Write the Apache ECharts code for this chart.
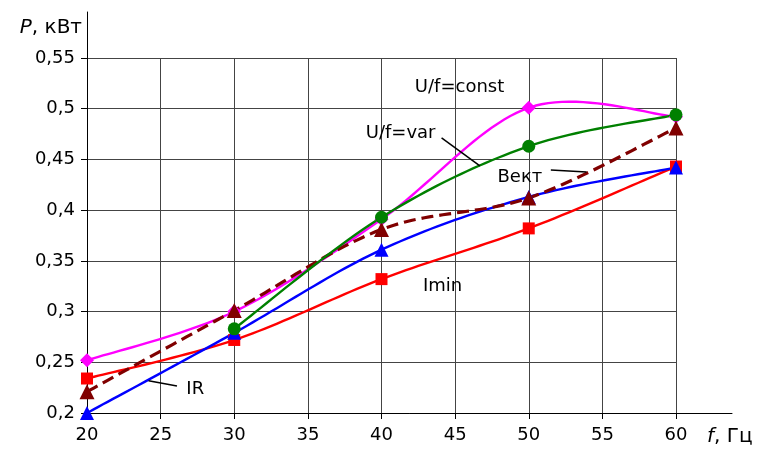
<!DOCTYPE html>
<html>
<head>
<meta charset="utf-8">
<script src="https://cdn.jsdelivr.net/npm/echarts@6/dist/echarts.min.js"></script>
<style>
html,body{margin:0;padding:0;background:#fff;}
#c{width:765px;height:452px;}
</style>
</head>
<body>
<div id="c"></div>
<script>
// ---- data ----
var freqs = [20, 30, 40, 50, 60];
var uConst = [0.252, 0.300, 0.391, 0.501, 0.492];
var uVar = [null, 0.283, 0.393, 0.463, 0.494];
var imin = [0.234, 0.272, 0.332, 0.382, 0.443];
var ir = [0.200, 0.279, 0.361, 0.413, 0.442];
var vekt = [0.221, 0.301, 0.381, 0.412, 0.481];
var xTicks = [20, 25, 30, 35, 40, 45, 50, 55, 60];
var yTicks = [0.2, 0.25, 0.3, 0.35, 0.4, 0.45, 0.5, 0.55];
// annotation labels (data coordinates)
var annoNames = ['U/f=const', 'U/f=var', 'Вект', 'Imin', 'IR'];
var annoX = [45.3, 41.3, 49.4, 44.15, 27.35];
var annoY = [0.521, 0.476, 0.432, 0.325, 0.223];
// leader lines [x1, y1, x2, y2]
var leaderVar = [44.08, 0.4712, 46.68, 0.4436];
var leaderVekt = [51.5, 0.4396, 53.92, 0.4377];
var leaderIR = [24.18, 0.2319, 26.11, 0.2266];

function pairs(vals) {
  return freqs.map(function (f, i) { return vals[i] == null ? null : [f, vals[i]]; }).filter(function (p) { return p; });
}
var FONT = 'DejaVu Sans';
var chart = echarts.init(document.getElementById('c'), null, { renderer: 'canvas' });

// smooth curve (Catmull-Rom, Excel-like) built from axis-mapped coordinates
function curveSeries(vals, color, width, dash) {
  var data = pairs(vals);
  return {
    type: 'custom', xAxisIndex: 0, yAxisIndex: 0, silent: true, clip: false,
    data: data,
    encode: { x: 0, y: 1 },
    renderItem: function (params, api) {
      if (params.dataIndex !== 0) return null;
      var P = data.map(function (d) { return api.coord(d); });
      var n = P.length, pts = [P[0]];
      for (var i = 0; i < n - 1; i++) {
        var p0 = P[Math.max(i - 1, 0)], p1 = P[i], p2 = P[i + 1], p3 = P[Math.min(i + 2, n - 1)];
        var c1 = [p1[0] + (p2[0] - p0[0]) / 6, p1[1] + (p2[1] - p0[1]) / 6];
        var c2 = [p2[0] - (p3[0] - p1[0]) / 6, p2[1] - (p3[1] - p1[1]) / 6];
        for (var k = 1; k <= 24; k++) {
          var t = k / 24, u = 1 - t;
          pts.push([
            u * u * u * p1[0] + 3 * u * u * t * c1[0] + 3 * u * t * t * c2[0] + t * t * t * p2[0],
            u * u * u * p1[1] + 3 * u * u * t * c1[1] + 3 * u * t * t * c2[1] + t * t * t * p2[1]
          ]);
        }
      }
      return {
        type: 'polyline', shape: { points: pts },
        style: { stroke: color, lineWidth: width, fill: 'none', lineDash: dash || null, lineJoin: 'round' }
      };
    }
  };
}
function markSeries(vals, color, symbol, size) {
  return {
    type: 'scatter', xAxisIndex: 0, yAxisIndex: 0, silent: true, clip: false,
    data: pairs(vals), symbol: symbol, symbolSize: size,
    itemStyle: { color: color, opacity: 1 }
  };
}

var option = {
  animation: false,
  backgroundColor: '#fff',
  grid: [
    { left: 87, right: 89, top: 58, bottom: 39 },
    { left: 87, right: 33, top: 12, bottom: 39 }
  ],
  xAxis: [
    {
      type: 'value', gridIndex: 0, min: xTicks[0], max: xTicks[xTicks.length - 1], interval: 5,
      axisLine: { show: false },
      axisTick: { show: true, inside: false, length: 6, lineStyle: { color: '#000', width: 1 } },
      axisLabel: { margin: 13, color: '#000', fontFamily: FONT, fontSize: 18 },
      splitLine: { show: true, lineStyle: { color: '#444', width: 1 } }
    },
    {
      type: 'value', gridIndex: 1, min: 0, max: 1,
      axisLine: { show: true, lineStyle: { color: '#000', width: 1 } },
      axisTick: { show: false }, axisLabel: { show: false }, splitLine: { show: false },
      name: '{i|f}, Гц', nameLocation: 'end', nameGap: -25,
      nameTextStyle: {
        color: '#000', fontFamily: FONT, fontSize: 20, align: 'left', verticalAlign: 'top',
        padding: [14, 0, 0, 0],
        rich: { i: { fontStyle: 'italic', fontFamily: FONT, fontSize: 20, color: '#000' } }
      }
    }
  ],
  yAxis: [
    {
      type: 'value', gridIndex: 0, min: yTicks[0], max: yTicks[yTicks.length - 1], interval: 0.05,
      axisLine: { show: false },
      axisTick: { show: true, inside: false, length: 6, lineStyle: { color: '#000', width: 1 } },
      axisLabel: {
        margin: 12, color: '#000', fontFamily: FONT, fontSize: 18,
        formatter: function (v) { return String(Number(v.toFixed(2))).replace('.', ','); }
      },
      splitLine: { show: true, lineStyle: { color: '#444', width: 1 } }
    },
    {
      type: 'value', gridIndex: 1, min: 0, max: 1,
      axisLine: { show: true, lineStyle: { color: '#000', width: 1 } },
      axisTick: { show: false }, axisLabel: { show: false }, splitLine: { show: false },
      name: '{i|P}, кВт', nameLocation: 'end', nameGap: -6,
      nameTextStyle: {
        color: '#000', fontFamily: FONT, fontSize: 20, align: 'right', verticalAlign: 'top',
        padding: [0, 5, 0, 0],
        rich: { i: { fontStyle: 'italic', fontFamily: FONT, fontSize: 20, color: '#000' } }
      }
    }
  ],
  series: [
    curveSeries(uConst, '#FF00FF', 2.4),
    markSeries(uConst, '#FF00FF', 'diamond', 14),
    curveSeries(imin, '#FF0000', 2.4),
    markSeries(imin, '#FF0000', 'rect', 12),
    curveSeries(ir, '#0000FF', 2.4),
    markSeries(ir, '#0000FF', 'triangle', 14),
    curveSeries(vekt, '#800000', 3.2, [12, 6]),
    markSeries(vekt, '#800000', 'triangle', 15),
    curveSeries(uVar, '#008000', 2.4),
    markSeries(uVar, '#008000', 'circle', 13),
    {
      type: 'lines', coordinateSystem: 'cartesian2d', xAxisIndex: 0, yAxisIndex: 0,
      silent: true, polyline: false,
      lineStyle: { color: '#000', width: 1.5, opacity: 1 },
      data: [
        { coords: [[leaderVar[0], leaderVar[1]], [leaderVar[2], leaderVar[3]]] },
        { coords: [[leaderVekt[0], leaderVekt[1]], [leaderVekt[2], leaderVekt[3]]] },
        { coords: [[leaderIR[0], leaderIR[1]], [leaderIR[2], leaderIR[3]]] }
      ]
    },
    {
      type: 'scatter', xAxisIndex: 0, yAxisIndex: 0, symbolSize: 0, silent: true,
      itemStyle: { opacity: 1 },
      data: annoNames.map(function (n, i) { return { name: n, value: [annoX[i], annoY[i]] }; }),
      label: {
        show: true, position: 'inside', formatter: '{b}', opacity: 1,
        color: '#000', fontFamily: FONT, fontSize: 18, textBorderWidth: 0
      }
    }
  ]
};
chart.setOption(option);
</script>
</body>
</html>
